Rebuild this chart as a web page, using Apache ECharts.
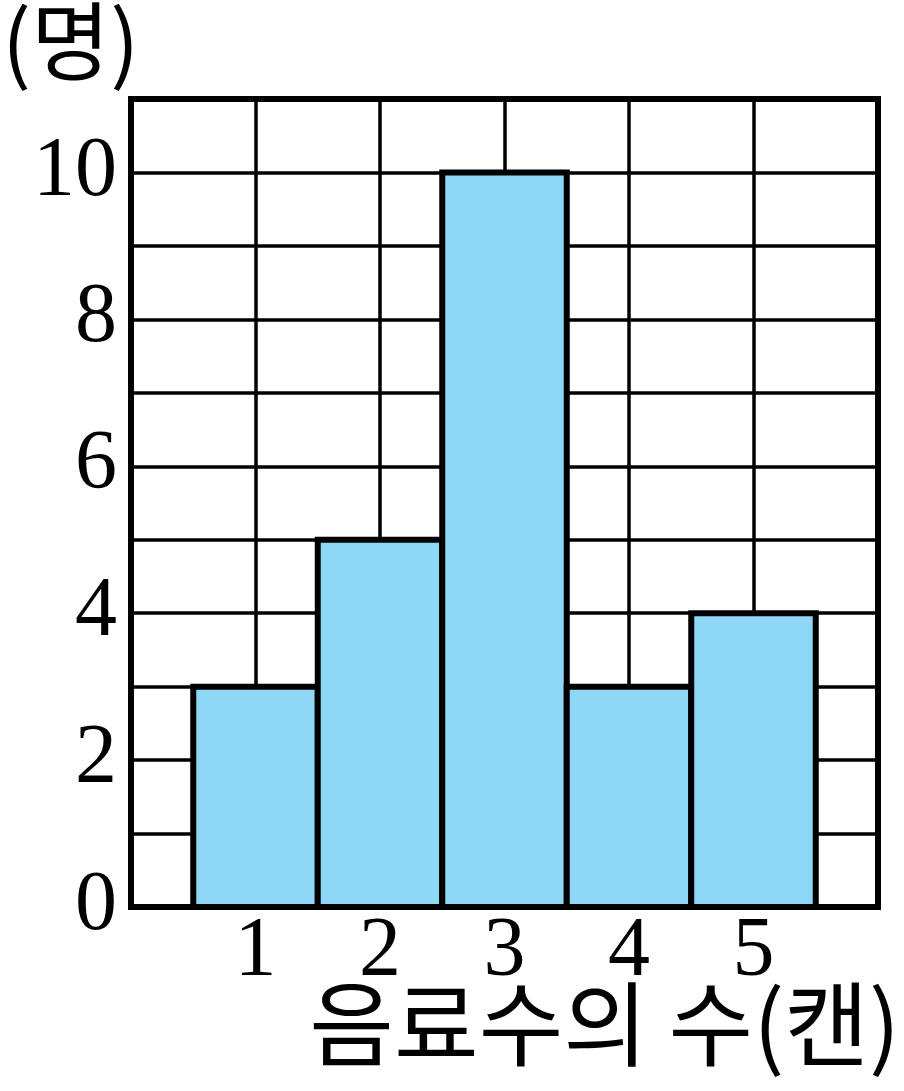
<!DOCTYPE html>
<html><head><meta charset="utf-8">
<script src="https://cdn.jsdelivr.net/npm/echarts@6/dist/echarts.min.js"></script>
<style>html,body{margin:0;padding:0;background:#fff}#c{width:904px;height:1091px}</style>
</head><body><div id="c"></div>
<script>
const categories = [1, 2, 3, 4, 5];
const counts = [3, 5, 10, 3, 4];
const yTickLabels = [0, 2, 4, 6, 8, 10];
const xName = '음료수의 수(캔)';
const yName = '(명)';

const chart = echarts.init(document.getElementById('c'));
const digitFont = '"Liberation Serif", "DejaVu Serif", serif';
const krFont = '"Noto Sans CJK KR", sans-serif';
chart.setOption({
  animation: false,
  grid: { left: 131, right: 26, top: 99, bottom: 184, show: true, borderColor: '#000', borderWidth: 6, backgroundColor: '#fff' },
  xAxis: {
    type: 'value', min: 0, max: 6, interval: 1,
    axisLine: { show: true, lineStyle: { color: '#000', width: 6 } },
    axisTick: { show: false },
    splitLine: { show: true, lineStyle: { color: '#000', width: 3.5 } },
    axisLabel: {
      color: '#000', fontFamily: digitFont, fontSize: 84, margin: 4,
      formatter: v => categories.includes(v) ? String(v) : ''
    }
  },
  yAxis: {
    type: 'value', min: 0, max: 11, interval: 1,
    axisLine: { show: true, lineStyle: { color: '#000', width: 6 } },
    axisTick: { show: false },
    splitLine: { show: true, lineStyle: { color: '#000', width: 3.5 } },
    axisLabel: {
      color: '#000', fontFamily: digitFont, fontSize: 84, margin: 14,
      formatter: v => yTickLabels.includes(v) ? String(v) : ''
    }
  },
  graphic: [
    { type: 'text', left: 2, top: -2, style: { text: yName, font: '86px ' + krFont, fill: '#000' } },
    { type: 'text', right: 4, top: 978, style: { text: xName, font: '92px ' + krFont, fill: '#000' } }
  ],
  series: [{
    type: 'custom',
    data: categories.map((c, i) => [c, counts[i]]),
    encode: { x: 0, y: 1 },
    renderItem: function (params, api) {
      const x = api.value(0), y = api.value(1);
      const p0 = api.coord([x - 0.5, y]);
      const p1 = api.coord([x + 0.5, 0]);
      return {
        type: 'rect',
        shape: { x: p0[0], y: p0[1], width: p1[0] - p0[0], height: p1[1] - p0[1] },
        style: { fill: '#8ed8f6', stroke: '#000', lineWidth: 6 }
      };
    }
  }]
});
</script></body></html>
